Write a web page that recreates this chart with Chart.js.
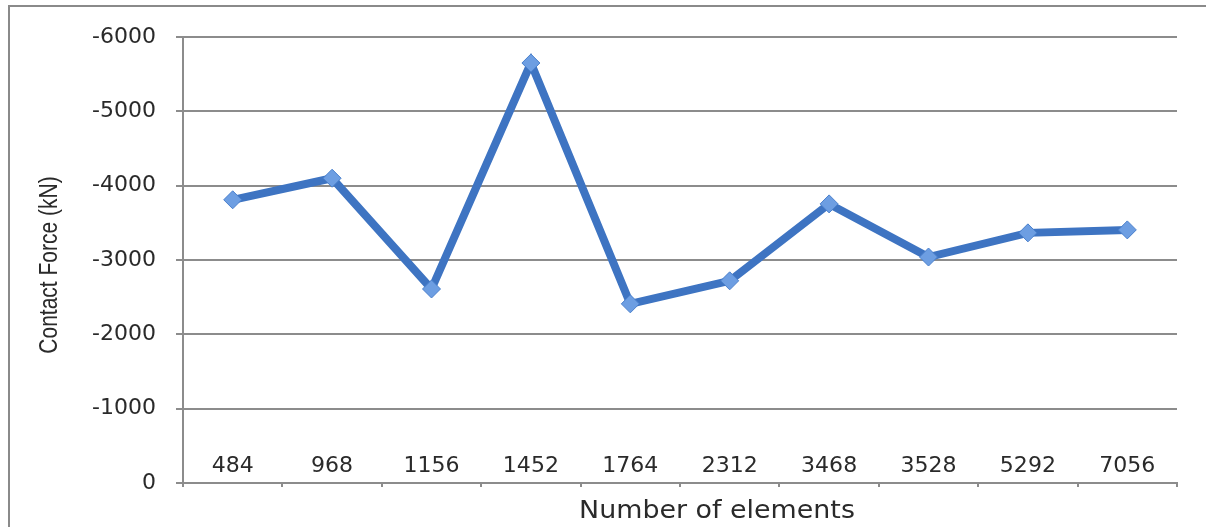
<!DOCTYPE html>
<html>
<head>
<meta charset="utf-8">
<script src="https://cdn.jsdelivr.net/npm/chart.js@4.4.1/dist/chart.umd.min.js"></script>
<style>
    body { margin: 0; background: #fff; overflow: hidden; }
    #wrap { position: relative; width: 1206px; height: 527px; }
    #frame {
        position: absolute; left: 8px; top: 5px; width: 1300px; height: 600px;
        border: 2px solid #8a8a8a; pointer-events: none;
    }
</style>
</head>
<body>
<div id="wrap">
    <canvas id="grafico" width="1206" height="527"></canvas>
    <div id="frame"></div>
</div>
<script>
// categorias (numero de elementos)
const elementos = ['484', '968', '1156', '1452', '1764', '2312', '3468', '3528', '5292', '7056'];
// forca de contato (kN)
const forcaContato = [-3810, -4100, -2610, -5650, -2410, -2720, -3755, -3040, -3365, -3405];
const yMin = -6000;
const yMax = 0;
const yPasso = 1000;

const cinza = '#8c8c8c';
const azul = '#3e74c2';
const corTexto = '#2a2a2a';
const fonteTexto = 'Verdana, "DejaVu Sans", sans-serif';

// rotulos do eixo x ficam dentro da area do grafico (como no Excel) + titulos dos eixos
const rotulosX = {
    id: 'rotulosX',
    afterDraw(chart) {
        const c = chart.ctx;
        const x = chart.scales.x;
        const area = chart.chartArea;
        c.save();
        c.fillStyle = corTexto;
        c.font = '21px ' + fonteTexto;
        c.textAlign = 'center';
        c.textBaseline = 'middle';
        elementos.forEach((rot, i) => {
            c.save();
            c.translate(x.getPixelForValue(i), area.bottom - 16);
            c.scale(1.05, 1);
            c.fillText(rot, 0, 0);
            c.restore();
        });
        // titulo do eixo x
        c.save();
        c.translate((area.left + area.right) / 2 + 37, area.bottom + 29);
        c.scale(1.12, 1);
        c.font = '24px ' + fonteTexto;
        c.fillText('Number of elements', 0, 0);
        c.restore();
        // titulo do eixo y (fonte estreita)
        c.translate(50, (area.top + area.bottom) / 2 + 5);
        c.rotate(-Math.PI / 2);
        c.scale(0.84, 1);
        c.font = '25px "Liberation Sans", Arial, sans-serif';
        c.fillText('Contact Force (kN)', 0, 0);
        c.restore();
    }
};

const ctx = document.getElementById('grafico');
const grafico = new Chart(ctx, {
    type: 'line',
    data: {
        labels: elementos,
        datasets: [{
            data: forcaContato,
            borderColor: azul,
            borderWidth: 8,
            backgroundColor: '#6d9ee2',
            pointStyle: 'rectRot',
            pointRadius: 9,
            pointBorderColor: '#4a80cc',
            pointBorderWidth: 1,
            tension: 0,
            fill: false
        }]
    },
    options: {
        responsive: false,
        animation: false,
        layout: {
            padding: { left: 37, top: 37, right: 29, bottom: 0 }
        },
        plugins: {
            legend: { display: false }, // sem legenda
            tooltip: { enabled: false }
        },
        scales: {
            x: {
                offset: true,
                afterFit: (scale) => { scale.height = 44; },
                grid: {
                    offset: true,
                    drawOnChartArea: false,
                    drawTicks: true,
                    tickLength: 4,
                    color: cinza,
                    lineWidth: 2
                },
                border: { color: cinza, width: 2 },
                ticks: { display: false }
            },
            y: {
                reverse: true,
                min: yMin,
                max: yMax,
                afterFit: (scale) => { scale.width = 146; },
                grid: {
                    color: cinza,
                    lineWidth: 2,
                    tickLength: 7
                },
                border: { color: cinza, width: 2 },
                ticks: {
                    stepSize: yPasso,
                    padding: 20,
                    color: corTexto,
                    font: { family: fonteTexto, size: 22 },
                    callback: (v) => String(v)
                }
            }
        }
    },
    plugins: [rotulosX]
});
</script>
</body>
</html>
